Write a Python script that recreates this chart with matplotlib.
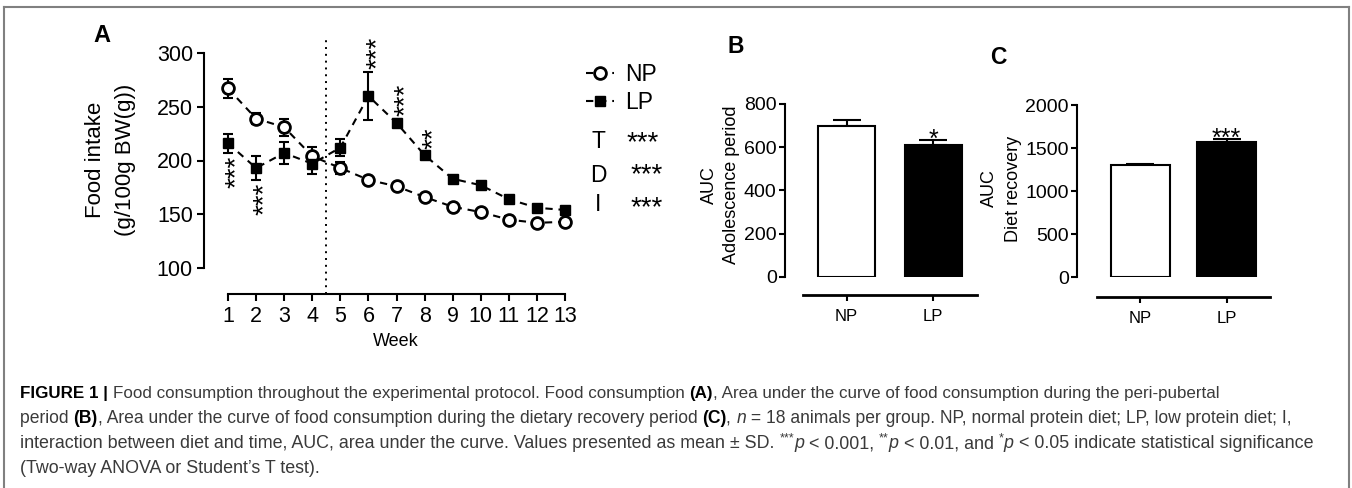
import matplotlib
matplotlib.use('Agg')
import matplotlib.pyplot as plt
from matplotlib.lines import Line2D

# ---------------- data ----------------
weeks = list(range(1, 14))
np_mean = [267, 239, 231, 204, 193, 182, 176, 166, 157, 152, 145, 142, 143]
np_sd = [9, 5, 8, 9, 6, 3, 3, 3, 3, 3, 3, 3, 3]
lp_mean = [216, 193, 207, 197, 212, 260, 235, 205, 183, 177, 164, 156, 154]
lp_sd = [9, 11, 10, 10, 8, 22, 4, 3, 3, 3, 3, 3, 3]
star_weeks = [1, 2, 6, 7, 8]
star_labels = ['***', '***', '***', '***', '**']
star_side = ['below', 'below', 'above', 'above', 'above']
a_yticks = [100, 150, 200, 250, 300]
effects = ['T', 'D', 'I']
effect_sig = ['***', '***', '***']

groups = ['NP', 'LP']
auc_adol = [700, 612]
auc_adol_sd = [24, 20]
auc_adol_sig = ['', '*']
b_yticks = [0, 200, 400, 600, 800]
auc_rec = [1300, 1572]
auc_rec_sd = [15, 30]
auc_rec_sig = ['', '***']
c_yticks = [0, 500, 1000, 1500, 2000]

caption = [
    [("FIGURE 1 | ", 'b'), ("Food consumption throughout the experimental protocol. Food consumption ", 'r'),
     ("(A)", 'b'), (", Area under the curve of food consumption during the peri-pubertal", 'r')],
    [("period ", 'r'), ("(B)", 'b'),
     (", Area under the curve of food consumption during the dietary recovery period ", 'r'),
     ("(C)", 'b'), (", ", 'r'), ("n", 'i'),
     (" = 18 animals per group. NP, normal protein diet; LP, low protein diet; I,", 'r')],
    [("interaction between diet and time, AUC, area under the curve. Values presented as mean \u00b1 SD. ", 'r'),
     ("***", 's'), ("p", 'i'), (" < 0.001, ", 'r'), ("**", 's'), ("p", 'i'), (" < 0.01, and ", 'r'),
     ("*", 's'), ("p", 'i'), (" < 0.05 indicate statistical significance", 'r')],
    [("(Two-way ANOVA or Student\u2019s T test).", 'r')],
]

# ---------------- setup ----------------
SANS = ['Liberation Sans', 'DejaVu Sans']
NARROW = ['Liberation Sans Narrow', 'Liberation Sans', 'DejaVu Sans']
plt.rcParams['font.family'] = SANS

W, H = 1352, 488
fig = plt.figure(figsize=(W / 100, H / 100), dpi=100)
renderer = fig.canvas.get_renderer()
PX = 0.72  # points per pixel


def fx(p):
    return p / W


def fy(p):
    return 1 - p / H


def axrect(l, t, r, b):
    return [fx(l), fy(b), (r - l) / W, (b - t) / H]


def em(size):
    return size / PX


def cap_text(x, y, s, size, family=SANS, **kw):
    """place text so that cap-height centre is at pixel (x, y)"""
    return fig.text(fx(x), fy(y + 0.358 * em(size)), s, fontsize=size, family=family,
                    ha=kw.pop('ha', 'center'), va='baseline', **kw)


def star_text(x, y, s, size, **kw):
    return fig.text(fx(x), fy(y + 0.576 * em(size)), s, fontsize=size, ha='center',
                    va='baseline', **kw)


def vtext(x, y, s, size, family=SANS):
    # rotated label; x is visual centre of glyph column
    return fig.text(fx(x + 0.358 * em(size)), fy(y), s, fontsize=size, family=family,
                    rotation=90, rotation_mode='anchor', ha='center', va='baseline')


# ---------------- frame ----------------
frame_kw = dict(color='#808080', lw=1.5, transform=fig.transFigure)
fig.add_artist(Line2D([fx(4), fx(4)], [fy(7), 0], **frame_kw))
fig.add_artist(Line2D([fx(4), fx(1349)], [fy(7), fy(7)], **frame_kw))
fig.add_artist(Line2D([fx(1349), fx(1349)], [fy(7), 0], **frame_kw))

# ---------------- panel A ----------------
axA = fig.add_axes(axrect(204, 53, 570, 268))
step = 28.08
axA.set_xlim(1 - (228 - 204) / step, 13 + 5 / step)
axA.set_ylim(100, 300)
dash = (0, (3.5, 2.8))
axA.errorbar(weeks, np_mean, yerr=np_sd, fmt='none', ecolor='k', elinewidth=1.5,
             capsize=3.5, capthick=1.5, clip_on=False, zorder=2)
axA.errorbar(weeks, lp_mean, yerr=lp_sd, fmt='none', ecolor='k', elinewidth=1.5,
             capsize=3.5, capthick=1.5, clip_on=False, zorder=2)
np_line, = axA.plot(weeks, np_mean, ls=dash, color='k', lw=1.5, marker='o', ms=8.5,
                    mfc='white', mec='k', mew=2.0, clip_on=False, zorder=3)
lp_line, = axA.plot(weeks, lp_mean, ls=dash, color='k', lw=1.5, marker='s', ms=7.5,
                    mfc='k', mec='k', mew=1, clip_on=False, zorder=3)
axA.axvline(4.5, ymin=-26 / 215, ymax=1 + 13 / 215, color='k', lw=1.4,
            ls=(0, (1, 2.5)), clip_on=False)

for s in ['top', 'right']:
    axA.spines[s].set_visible(False)
axA.spines['left'].set_bounds(100, 300)
axA.spines['left'].set_linewidth(1.5)
axA.spines['bottom'].set_position(('outward', 26 * PX))
axA.spines['bottom'].set_bounds(1, 13)
axA.spines['bottom'].set_linewidth(1.5)
axA.set_xticks(weeks)
axA.set_yticks(a_yticks)
axA.tick_params(length=5, width=1.5, labelsize=15.5, pad=3)
axA.tick_params(axis='x', pad=4)

STAR_SIZE = 20
for w, lab, side in zip(star_weeks, star_labels, star_side):
    i = weeks.index(w)
    if side == 'below':
        y = lp_mean[i] - lp_sd[i]
        axA.annotate(lab, xy=(w, y), xytext=(0.576 * STAR_SIZE, -3 * PX), textcoords='offset points',
                     rotation=90, rotation_mode='anchor', ha='right', va='baseline',
                     fontsize=STAR_SIZE, annotation_clip=False)
    else:
        y = lp_mean[i] + lp_sd[i]
        axA.annotate(lab, xy=(w, y), xytext=(0.576 * STAR_SIZE, 3 * PX), textcoords='offset points',
                     rotation=90, rotation_mode='anchor', ha='left', va='baseline',
                     fontsize=STAR_SIZE, annotation_clip=False)

axA.legend([np_line, lp_line], groups, loc='upper left', bbox_to_anchor=(fx(586), fy(63)),
           bbox_transform=fig.transFigure, frameon=False, fontsize=16.5, handlelength=1.2,
           handletextpad=0.5, labelspacing=0.22, borderpad=0, borderaxespad=0)

eff_y = [140, 174, 203]
star_y = [134, 166, 199]
star_x = [643, 647, 647]
for lab, sig, ey, sy, sx in zip(effects, effect_sig, eff_y, star_y, star_x):
    cap_text(598, ey, lab, 16.5)
    star_text(sx, sy, sig, STAR_SIZE)

cap_text(102, 34, 'A', 17, weight='bold')
vtext(93, 160, 'Food intake', 16)
vtext(123, 160, '(g/100g BW(g))', 16)
cap_text(396, 340, 'Week', 13, family=NARROW)

# ---------------- panel B / C ----------------
def bar_panel(rect_px, centers_px, width_px, xline_px, yvals, sds, sigs, yticks, ylim):
    l, t, r, b = rect_px
    unit = centers_px[1] - centers_px[0]
    ax = fig.add_axes(axrect(l, t, r, b))
    xs = list(range(len(groups)))
    ax.set_xlim(-(centers_px[0] - l) / unit, 1 + (r - centers_px[1]) / unit)
    ax.set_ylim(*ylim)
    ax.bar(xs, yvals, width=width_px / unit, color=['white', 'black'], edgecolor='k',
           linewidth=1.5, zorder=3)
    ax.errorbar(xs, yvals, yerr=[[0] * len(sds), sds], fmt='none', ecolor='k',
                elinewidth=1.5, capsize=10, capthick=1.5, zorder=2, clip_on=False)
    for s in ['top', 'right']:
        ax.spines[s].set_visible(False)
    ax.spines['left'].set_bounds(*ylim)
    ax.spines['left'].set_linewidth(1.5)
    ax.spines['bottom'].set_position(('outward', (xline_px[2] - b) * PX))
    ax.spines['bottom'].set_bounds(-(centers_px[0] - xline_px[0]) / unit,
                                   1 + (xline_px[1] - centers_px[1]) / unit)
    ax.spines['bottom'].set_linewidth(2)
    ax.set_xticks(xs)
    ax.set_xticklabels(groups)
    ax.set_yticks(yticks)
    ax.tick_params(length=4, width=1.5, pad=2)
    for lbl in ax.get_yticklabels():
        lbl.set_fontfamily(NARROW)
        lbl.set_fontsize(14)
    for lbl in ax.get_xticklabels():
        lbl.set_fontfamily(NARROW)
        lbl.set_fontsize(12)
    ax.tick_params(axis='x', pad=6)
    for xi, yv, sd, sg in zip(xs, yvals, sds, sigs):
        if sg:
            ax.annotate(sg, xy=(xi, yv + sd), xytext=(0, (8 - 0.576 * em(18)) * PX),
                        textcoords='offset points', ha='center', va='baseline',
                        fontsize=18, annotation_clip=False)
    return ax


axB = bar_panel((785, 104, 977, 276.7), (846.5, 933), 57, (803, 977, 295),
                auc_adol, auc_adol_sd, auc_adol_sig, b_yticks, (0, 800))
axC = bar_panel((1077, 105, 1270, 277.3), (1140.4, 1226.7), 59.3, (1097, 1270, 296.7),
                auc_rec, auc_rec_sd, auc_rec_sig, c_yticks, (0, 2000))

cap_text(736, 45, 'B', 16.5, weight='bold')
cap_text(998, 56, 'C', 16.5, weight='bold')
vtext(708, 185, 'AUC', 13, family=NARROW)
vtext(730, 185, 'Adolescence period', 13, family=NARROW)
vtext(988, 188, 'AUC', 13, family=NARROW)
vtext(1012, 189, 'Diet recovery', 13, family=NARROW)

# ---------------- caption ----------------
STYLES = {'r': dict(fontweight='normal', fontstyle='normal', color='#3a3a3a'),
          'b': dict(fontweight='bold', fontstyle='normal', color='black'),
          'i': dict(fontweight='normal', fontstyle='italic', color='#3a3a3a'),
          's': dict(fontweight='normal', fontstyle='normal', color='#3a3a3a')}


def seg_width(s, kind, size):
    sz = size * (0.7 if kind == 's' else 1)
    t1 = fig.text(0, 0, s + '|', fontsize=sz, **STYLES[kind])
    t2 = fig.text(0, 0, '|', fontsize=sz, **STYLES[kind])
    w = t1.get_window_extent(renderer).width - t2.get_window_extent(renderer).width
    t1.remove()
    t2.remove()
    return w


base = 10
line_end = [1225, 1300, 1318, None]
line_y = [392, 417, 442, 467]
sizes = []
for segs, end in zip(caption, line_end):
    if end is None:
        sizes.append(sizes[-1])
    else:
        wl = sum(seg_width(s, k, base) for s, k in segs)
        sizes.append(base * (end - 20) / wl)
for segs, yc, size in zip(caption, line_y, sizes):
    x = 20
    yb = yc + 0.358 * em(size)
    for s, k in segs:
        sz = size * (0.7 if k == 's' else 1)
        dy = 0.4 * em(size) if k == 's' else 0
        fig.text(fx(x), fy(yb - dy), s, fontsize=sz, ha='left', va='baseline', **STYLES[k])
        x += seg_width(s, k, size)

fig.savefig('out.png', dpi=100)
